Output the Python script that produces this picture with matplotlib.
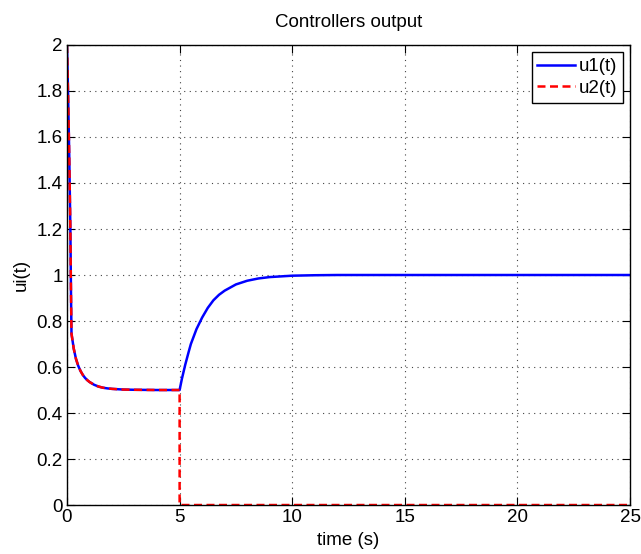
import matplotlib
matplotlib.use("Agg")
import matplotlib.pyplot as plt

plt.rcParams["font.family"] = ["Liberation Sans", "DejaVu Sans"]

# values
t_first = [0.0, 0.05, 0.10, 0.15, 0.18, 0.20, 0.30, 0.40, 0.50, 0.60, 0.70,
           0.80, 0.90, 1.00, 1.20, 1.40, 1.60, 1.80, 2.00, 2.50, 3.00, 4.00, 5.00]
u_first = [2.0, 1.78, 1.52, 1.2, 0.9, 0.745, 0.68, 0.635, 0.605, 0.583, 0.566,
           0.553, 0.543, 0.535, 0.523, 0.515, 0.51, 0.507, 0.505, 0.502, 0.501, 0.5, 0.5]

t_rise = [5.0, 5.1, 5.25, 5.4, 5.5, 5.75, 6.0, 6.25, 6.5, 6.75, 7.0, 7.5, 8.0,
          8.5, 9.0, 9.5, 10.0, 11.0, 12.0, 25.0]
u1_rise = [0.5, 0.548, 0.61, 0.665, 0.70, 0.765, 0.815, 0.857, 0.89, 0.914, 0.932,
           0.959, 0.975, 0.985, 0.991, 0.994, 0.997, 0.999, 1.0, 1.0]

t_u2_after = [5.0, 5.0, 25.0]
u2_after = [0.5, 0.0, 0.0]

xticks = [0, 5, 10, 15, 20, 25]
yticks = [0, 0.2, 0.4, 0.6, 0.8, 1, 1.2, 1.4, 1.6, 1.8, 2]

t_u1 = t_first + t_rise[1:]
u1 = u_first + u1_rise[1:]
t_u2 = t_first + t_u2_after[1:]
u2 = u_first + u2_after[1:]

fig = plt.figure(figsize=(6.41, 5.54), dpi=100)
ax = fig.add_axes([0.1045, 0.0884, 0.8785, 0.8304])

ax.plot(t_u1, u1, color="#0000ff", lw=1.8, label="u1(t)")
ax.plot(t_u2, u2, color="#ff0000", lw=1.8, ls=(0, (3.2, 1.8)), label="u2(t)")

ax.set_xlim(0, 25)
ax.set_ylim(0, 2)
ax.set_xticks(xticks)
ax.set_xticklabels([str(v) for v in xticks])
ax.set_yticks(yticks)
ax.set_yticklabels([f"{v:g}" for v in yticks])
ax.grid(True, color="#444444", ls=(0, (1, 4)), lw=0.8)
ax.tick_params(direction="in", top=True, right=True, labelsize=13.5, length=6, pad=3)
for s in ax.spines.values():
    s.set_linewidth(1.0)

ax.set_title("Controllers output", fontsize=13.5, pad=13)
ax.set_xlabel("time (s)", fontsize=13.5, labelpad=4)
ax.set_ylabel("ui(t)", fontsize=13.5, labelpad=5)

leg = ax.legend(loc="upper right", fontsize=13.5, fancybox=False, framealpha=1,
                edgecolor="black", handlelength=2.0, borderaxespad=0.4,
                handletextpad=0.2, borderpad=0.3, labelspacing=0.25)
leg.get_frame().set_linewidth(1.0)

fig.savefig("out.png", dpi=100)
